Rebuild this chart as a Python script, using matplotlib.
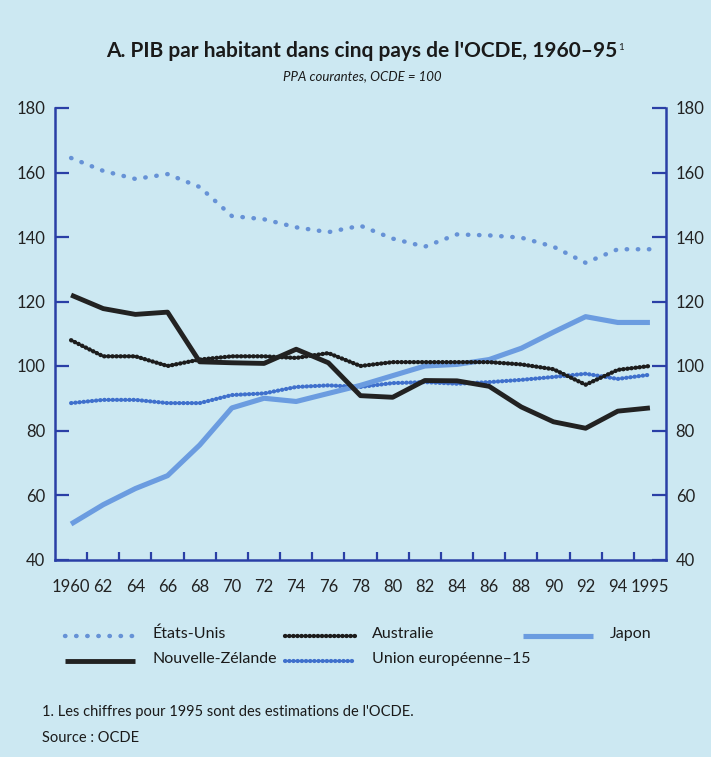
import numpy as np
import matplotlib
matplotlib.use("Agg")
import matplotlib.pyplot as plt
from matplotlib.lines import Line2D

plt.rcParams['font.family'] = ['Lato', 'DejaVu Sans']

# GDP per head, current PPPs, OECD = 100 (1995 = OECD estimate)
years = [1960, 1962, 1964, 1966, 1968, 1970, 1972, 1974, 1976, 1978,
         1980, 1982, 1984, 1986, 1988, 1990, 1992, 1994, 1995]
etats_unis = [164.5, 160.5, 158, 159.5, 155.5, 146.5, 145.5, 143, 141.5, 143.5,
              139.5, 137, 140.8, 140.5, 139.8, 137, 132, 136.2, 136.2]
australie = [108, 103, 103, 100, 102, 103, 103, 102.5, 104, 100,
             101.2, 101.2, 101.2, 101.2, 100.5, 99, 94.2, 98.8, 100]
japon = [51, 57, 62, 66, 75.5, 87, 90, 89, 91.5, 94,
         97, 100, 100.5, 102, 105.5, 110.5, 115.3, 113.5, 113.5]
nouvelle_zelande = [122, 117.8, 116, 116.7, 101.3, 101, 100.8, 105.2, 101, 90.8,
                    90.3, 95.5, 95.4, 93.7, 87.3, 82.7, 80.7, 86, 87]
union_euro = [88.5, 89.5, 89.5, 88.5, 88.5, 91, 91.5, 93.5, 94, 93.5,
              94.7, 95, 94.5, 95, 95.7, 96.6, 97.6, 96, 97.3]

xlabels = ["1960", "62", "64", "66", "68", "70", "72", "74", "76", "78",
           "80", "82", "84", "86", "88", "90", "92", "94", "1995"]
yticks = [40, 60, 80, 100, 120, 140, 160, 180]

bg = "#cce8f2"
axis_blue = "#2a3fa6"
ink = "#1a1a1a"

# line styles shared by the plot and the hand-made legend
styles = {
    "États-Unis": dict(color="#6692d6", lw=3.2, ls=(0, (0.1, 2.4))),
    "Union européenne–15": dict(color="#3f70cc", lw=3.0, ls=(0, (0.1, 0.9))),
    "Japon": dict(color="#6b9ce0", lw=3.7, ls="-"),
    "Australie": dict(color="#1c1c1c", lw=3.1, ls=(0, (0.1, 0.85))),
    "Nouvelle-Zélande": dict(color="#222222", lw=3.5, ls="-"),
}
series = {
    "États-Unis": etats_unis,
    "Union européenne–15": union_euro,
    "Japon": japon,
    "Australie": australie,
    "Nouvelle-Zélande": nouvelle_zelande,
}

# the 1995 estimate gets its own two-year slot, like its tick label
xpos = np.array(years, dtype=float)
xpos[-1] += 1
label_pos = np.arange(1960, 1997, 2)

fig = plt.figure(figsize=(7.11, 7.57), dpi=100, facecolor=bg)
ax = fig.add_axes([55 / 711, 1 - 559.5 / 757, 611 / 711, 451.5 / 757])
ax.set_facecolor(bg)

for name, vals in series.items():
    st = styles[name]
    ax.plot(xpos, vals, color=st["color"], lw=st["lw"], linestyle=st["ls"],
            dash_capstyle="round", solid_capstyle="butt", solid_joinstyle="round")

ax.set_xlim(1959, 1997)
ax.set_ylim(40, 180)

ax.spines["top"].set_visible(False)
for side in ["left", "right", "bottom"]:
    ax.spines[side].set_color(axis_blue)
    ax.spines[side].set_linewidth(1.8)

ax.set_yticks(yticks)
ax.tick_params(axis="y", direction="in", length=10, width=1.6, color=axis_blue,
               left=True, right=True, labelleft=True, labelright=True,
               labelsize=12, pad=7, labelcolor="#222222")

# ticks sit between the labelled years; labels are placed on minor ticks
ax.set_xticks(np.arange(1961, 1997, 2))
ax.set_xticklabels([])
ax.set_xticks(label_pos, minor=True)
ax.set_xticklabels(xlabels, minor=True)
ax.tick_params(axis="x", which="major", direction="in", length=6, width=1.6,
               color=axis_blue)
ax.tick_params(axis="x", which="minor", length=0, labelsize=12, pad=14,
               labelcolor="#222222")

# title and subtitle
title = fig.text(362 / 711, 1 - 51 / 757, "A. PIB par habitant dans cinq pays de l'OCDE, 1960–95",
                 ha="center", va="center", fontsize=15, fontweight="bold", color=ink)
fig.canvas.draw()
bb = title.get_window_extent()
fig.text(bb.x1 / 711 + 0.001, bb.y1 / 757 - 0.002, "1", fontsize=7, ha="left",
         va="top", color=ink)
fig.text(362 / 711, 1 - 76 / 757, "PPA courantes, OCDE = 100", ha="center",
         va="center", fontsize=9.5, style="italic", color=ink)

# legend built by hand in two rows
legend_slots = [("États-Unis", 65, 636), ("Australie", 285, 636), ("Japon", 523, 636),
                ("Nouvelle-Zélande", 65, 661), ("Union européenne–15", 285, 661)]
for name, x0, y0 in legend_slots:
    st = styles[name]
    yy = 1 - y0 / 757
    fig.add_artist(Line2D([x0 / 711, (x0 + 70) / 711], [yy, yy], color=st["color"],
                          lw=st["lw"], linestyle=st["ls"],
                          dash_capstyle="round", solid_capstyle="butt"))
    fig.text((x0 + 87) / 711, yy + 0.003, name, ha="left", va="center", fontsize=11.5,
             color=ink)

fig.text(42 / 711, 1 - 712 / 757, "1. Les chiffres pour 1995 sont des estimations de l'OCDE.",
         ha="left", va="center", fontsize=10.5, color=ink)
fig.text(42 / 711, 1 - 738 / 757, "Source : OCDE", ha="left", va="center",
         fontsize=10.5, color=ink)

fig.savefig("out.png", dpi=100, facecolor=bg)
